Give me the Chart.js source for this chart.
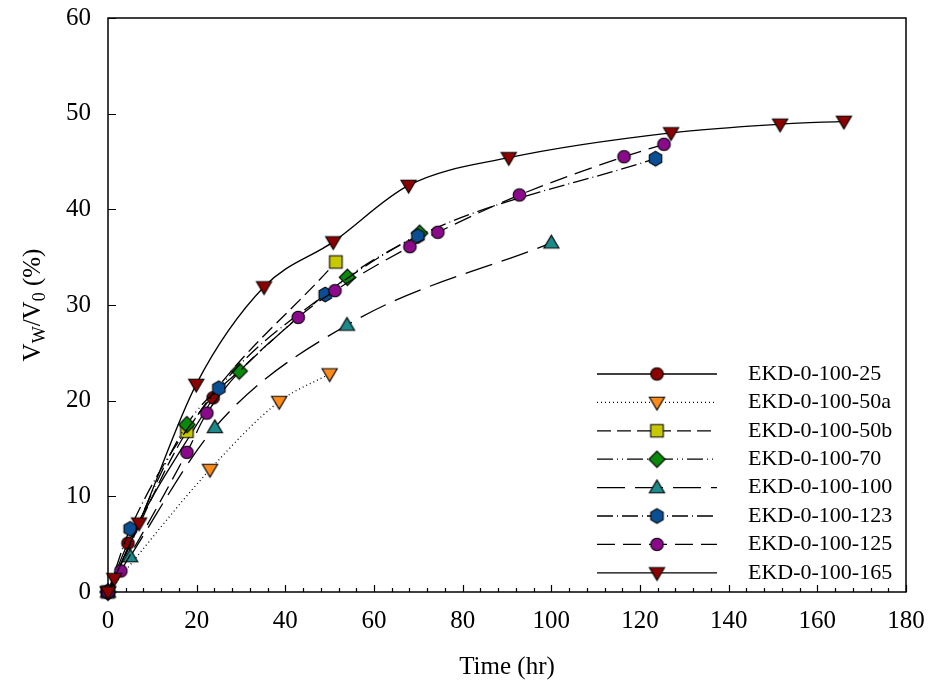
<!DOCTYPE html>
<html>
<head>
<meta charset="utf-8">
<script src="https://cdn.jsdelivr.net/npm/chart.js@4/dist/chart.umd.min.js"></script>
<style>
  html, body { margin: 0; padding: 0; background: #fff; }
</style>
</head>
<body>
<canvas id="swellChart" width="933" height="689"></canvas>
<script>
// --- data ---
const seriesNames = ['EKD-0-100-25', 'EKD-0-100-50a', 'EKD-0-100-50b', 'EKD-0-100-70',
                     'EKD-0-100-100', 'EKD-0-100-123', 'EKD-0-100-125', 'EKD-0-100-165'];

const time25 = [0, 4.5, 23.7];
const vol25  = [0, 5.1, 20.3];

const time50a = [0, 23, 38.6, 50];
const vol50a  = [0, 12.8, 19.9, 22.8];

const time50b = [0, 17.8, 51.4];
const vol50b  = [0, 16.8, 34.5];

const time70 = [0, 17.8, 29.6, 54, 70.3];
const vol70  = [0, 17.5, 23.1, 32.9, 37.5];

const time100 = [0, 5, 24.1, 53.9, 100];
const vol100  = [0, 3.7, 17.2, 27.9, 36.5];

const time123 = [0, 5, 25, 49, 69.9, 123.5];
const vol123  = [0, 6.6, 21.3, 31.1, 37.2, 45.3];

const time125 = [0, 2.9, 17.8, 22.3, 42.9, 51.2, 68.1, 74.4, 92.8, 116.4, 125.4];
const vol125  = [0, 2.2, 14.6, 18.7, 28.7, 31.5, 36.1, 37.6, 41.5, 45.5, 46.8];

const time165 = [0, 1.4, 7, 19.9, 35.2, 50.8, 67.8, 90.4, 127, 151.6, 166];
const vol165  = [0, 1.4, 7.2, 21.7, 31.9, 36.6, 42.5, 45.4, 48, 48.9, 49.2];

const xTickValues = [0, 20, 40, 60, 80, 100, 120, 140, 160, 180];
const yTickValues = [0, 10, 20, 30, 40, 50, 60];

// --- styling ---
const seriesTimes = [time25, time50a, time50b, time70, time100, time123, time125, time165];
const seriesVols  = [vol25, vol50a, vol50b, vol70, vol100, vol123, vol125, vol165];
const markerShapes = ['circle', 'triDown', 'square', 'diamond', 'triUp', 'hexagon', 'circle', 'triDown'];
const markerFills  = ['#8b0000', '#ff8c1a', '#c8c800', '#0a8a0a', '#1a8a8a', '#0a4f94', '#8b0a8b', '#8b0000'];
const lineDashes   = [[], [1, 3], [14, 6], [16, 4, 1, 4, 1, 4], [28, 10], [16, 4, 1, 4], [18, 8], []];

const serif = "'Liberation Serif', 'Times New Roman', serif";

function makeMarker(shape, fill) {
  const s = 19;
  const c = document.createElement('canvas');
  c.width = s; c.height = s;
  const g = c.getContext('2d');
  g.translate(s / 2, s / 2);
  g.beginPath();
  if (shape === 'circle') {
    g.arc(0, 0, 6.3, 0, Math.PI * 2);
  } else if (shape === 'triDown') {
    g.moveTo(-7.6, -5.2); g.lineTo(7.6, -5.2); g.lineTo(0, 7.6); g.closePath();
  } else if (shape === 'triUp') {
    g.moveTo(-7.6, 5.2); g.lineTo(7.6, 5.2); g.lineTo(0, -7.6); g.closePath();
  } else if (shape === 'square') {
    g.rect(-6.3, -6.3, 12.6, 12.6);
  } else if (shape === 'diamond') {
    g.moveTo(0, -8.2); g.lineTo(8.2, 0); g.lineTo(0, 8.2); g.lineTo(-8.2, 0); g.closePath();
  } else if (shape === 'hexagon') {
    for (let k = 0; k < 6; k++) {
      const a = -Math.PI / 2 + k * Math.PI / 3;
      const px = 7.2 * Math.cos(a), py = 7.4 * Math.sin(a);
      if (k === 0) g.moveTo(px, py); else g.lineTo(px, py);
    }
    g.closePath();
  }
  g.fillStyle = fill;
  g.fill();
  g.lineWidth = 1.1;
  g.strokeStyle = '#000';
  g.stroke();
  return c;
}

const markers = markerShapes.map((s, i) => makeMarker(s, markerFills[i]));

const datasets = seriesNames.map((name, i) => ({
  label: name,
  data: seriesTimes[i].map((t, j) => ({ x: t, y: seriesVols[i][j] })),
  borderColor: '#000',
  borderWidth: 1.3,
  borderDash: lineDashes[i],
  pointStyle: markers[i],
  pointRadius: 7,
  cubicInterpolationMode: 'monotone',
  fill: false,
  clip: false,
  order: seriesNames.length - i
}));

// frame + inward ticks, drawn under the data
const framePlugin = {
  id: 'framePlugin',
  beforeDatasetsDraw(chart) {
    const { ctx, chartArea: a, scales: { x, y } } = chart;
    ctx.save();
    ctx.strokeStyle = '#000';
    ctx.lineWidth = 1.5;
    ctx.strokeRect(a.left, a.top, a.right - a.left, a.bottom - a.top);
    ctx.lineWidth = 1.2;
    ctx.beginPath();
    for (let v = 0; v <= 180; v += 4) {
      const px = Math.round(x.getPixelForValue(v)) + 0.5;
      const len = v % 20 === 0 ? 7 : 4;
      ctx.moveTo(px, a.bottom);
      ctx.lineTo(px, a.bottom - len);
    }
    yTickValues.forEach(v => {
      const py = Math.round(y.getPixelForValue(v)) + 0.5;
      ctx.moveTo(a.left, py);
      ctx.lineTo(a.left + 8, py);
    });
    ctx.stroke();
    ctx.restore();
  }
};

// legend with line sample + marker, and axis titles
const legendPlugin = {
  id: 'legendPlugin',
  afterDatasetsDraw(chart) {
    const ctx = chart.ctx;
    ctx.save();
    ctx.font = '22px ' + serif;
    ctx.fillStyle = '#000';
    ctx.textBaseline = 'middle';
    ctx.textAlign = 'left';
    seriesNames.forEach((name, i) => {
      const rowY = 374 + i * 28.4;
      ctx.strokeStyle = '#000';
      ctx.lineWidth = 1.3;
      ctx.setLineDash(lineDashes[i]);
      ctx.beginPath();
      ctx.moveTo(597, rowY);
      ctx.lineTo(717, rowY);
      ctx.stroke();
      ctx.setLineDash([]);
      const m = markers[i];
      ctx.drawImage(m, 657 - m.width / 2, rowY - m.height / 2);
      ctx.fillText(name, 748, rowY);
    });
    ctx.restore();
  },
  afterDraw(chart) {
    const { ctx, chartArea: a } = chart;
    ctx.save();
    ctx.fillStyle = '#000';
    // x title
    ctx.font = '25px ' + serif;
    ctx.textAlign = 'center';
    ctx.textBaseline = 'middle';
    ctx.fillText('Time (hr)', (a.left + a.right) / 2, 667);
    // y title with subscripts, rotated
    ctx.translate(32, (a.top + a.bottom) / 2);
    ctx.rotate(-Math.PI / 2);
    const parts = [
      { t: 'V', sub: false }, { t: 'W', sub: true },
      { t: '/V', sub: false }, { t: '0', sub: true },
      { t: ' (%)', sub: false }
    ];
    const big = '25px ' + serif, small = '18px ' + serif;
    let total = 0;
    parts.forEach(p => { ctx.font = p.sub ? small : big; total += ctx.measureText(p.t).width; });
    let cx = -total / 2;
    ctx.textAlign = 'left';
    ctx.textBaseline = 'alphabetic';
    parts.forEach(p => {
      ctx.font = p.sub ? small : big;
      ctx.fillText(p.t, cx, p.sub ? 13 : 8);
      cx += ctx.measureText(p.t).width;
    });
    ctx.restore();
  }
};

new Chart(document.getElementById('swellChart').getContext('2d'), {
  type: 'line',
  data: { datasets: datasets },
  options: {
    responsive: false,
    animation: false,
    layout: { padding: { left: 0, top: 18, right: 27, bottom: 0 } },
    plugins: {
      legend: { display: false },
      tooltip: { enabled: false }
    },
    scales: {
      x: {
        type: 'linear',
        min: 0,
        max: 180,
        grid: { display: false, drawTicks: false },
        border: { display: false },
        afterBuildTicks: scale => { scale.ticks = xTickValues.map(v => ({ value: v })); },
        afterFit: scale => {
          scale.height = 97;
          scale.paddingLeft = 0;
          scale.paddingRight = 0;
        },
        ticks: { color: '#000', padding: 14, maxRotation: 0, font: { family: serif, size: 25 } }
      },
      y: {
        type: 'linear',
        min: 0,
        max: 60,
        grid: { display: false, drawTicks: false },
        border: { display: false },
        afterBuildTicks: scale => { scale.ticks = yTickValues.map(v => ({ value: v })); },
        afterFit: scale => {
          scale.width = 108;
          scale.paddingTop = 0;
          scale.paddingBottom = 0;
        },
        ticks: { color: '#000', padding: 17, font: { family: serif, size: 25 } }
      }
    }
  },
  plugins: [framePlugin, legendPlugin]
});
</script>
</body>
</html>
